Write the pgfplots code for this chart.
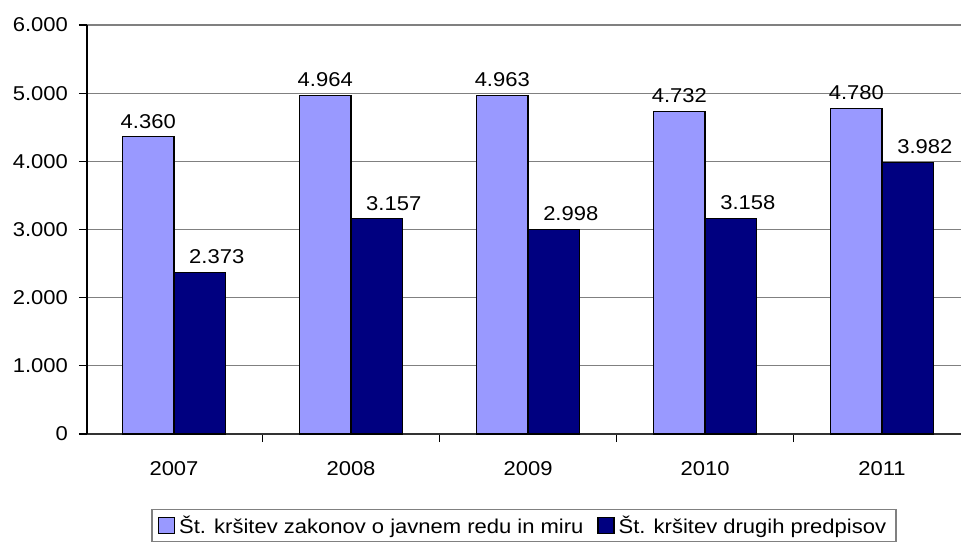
\documentclass[border=0pt]{standalone}
\usepackage{pgfplots}
\pgfplotsset{compat=1.18}
\usepackage{fontspec}
\setmainfont{Liberation Sans}[FakeStretch=1.1]
\definecolor{lightbar}{HTML}{9999FF}
\definecolor{darkbar}{HTML}{000080}
\definecolor{gridgray}{HTML}{808080}
\begin{document}
\begin{tikzpicture}[font=\fontsize{10}{12}\selectfont]
\begin{axis}[
  at={(0,0)}, anchor=south west,
  scale only axis, width=437pt, height=204.5pt,
  xmin=-0.4915, xmax=4.446, ymin=0, ymax=6000,
  ybar=0pt, bar width=25.75pt,
  axis x line*=bottom, axis y line*=left,
  x axis line style={-, draw=black!80, line width=0.7pt},
  y axis line style={-, draw=black, line width=0.6pt},
  xtick={0,1,2,3,4}, xticklabels={2007,2008,2009,2010,2011},
  major x tick style={draw=none},
  minor xtick={0.5,1.5,2.5,3.5},
  minor x tick style={draw=black, line width=0.6pt},
  major y tick style={draw=black, line width=0.6pt},
  tick align=outside, major tick length=4pt, minor tick length=4pt,
  ytick={0,1000,...,6000},
  ymajorgrids, major grid style={gridgray, line width=0.6pt},
  scaled y ticks=false,
  xticklabel style={yshift=-6pt},
  yticklabel style={xshift=-2pt},
  every node near coord/.append style={text=black, font=\fontsize{10}{12}\selectfont, inner sep=2pt, yshift=2pt},
  legend style={at={(0.5,-0.1834)}, anchor=north, draw=gridgray, line width=0.6pt,
    inner xsep=3pt, inner ysep=1pt,
    /tikz/every even column/.append style={column sep=5pt},
    font=\fontsize{10}{12}\selectfont},
  legend columns=2, legend cell align=left,
  /pgf/number format/1000 sep={.},
  /pgf/number format/assume math mode=true,
]
\addplot[fill=lightbar, draw=black, line width=0.6pt,
  nodes near coords,
  legend image code/.code={\draw[fill=lightbar, draw=black, line width=0.6pt] (0pt,-4pt) rectangle (8pt,4pt);}]
  coordinates {(0,4360) (1,4964) (2,4963) (3,4732) (4,4780)};
\addlegendentry{Št. kršitev zakonov o javnem redu in miru}
\addplot[fill=darkbar, draw=black, line width=0.6pt,
  nodes near coords,
  every node near coord/.append style={xshift=8.5pt},
  legend image code/.code={\draw[fill=darkbar, draw=black, line width=0.6pt] (0pt,-4pt) rectangle (8pt,4pt);}]
  coordinates {(0,2373) (1,3157) (2,2998) (3,3158) (4,3982)};
\addlegendentry{Št. kršitev drugih predpisov}
\end{axis}
\pgfresetboundingbox
\path[use as bounding box] (-43.5pt,-53.5pt) rectangle (437pt,217pt);
\end{tikzpicture}
\end{document}
